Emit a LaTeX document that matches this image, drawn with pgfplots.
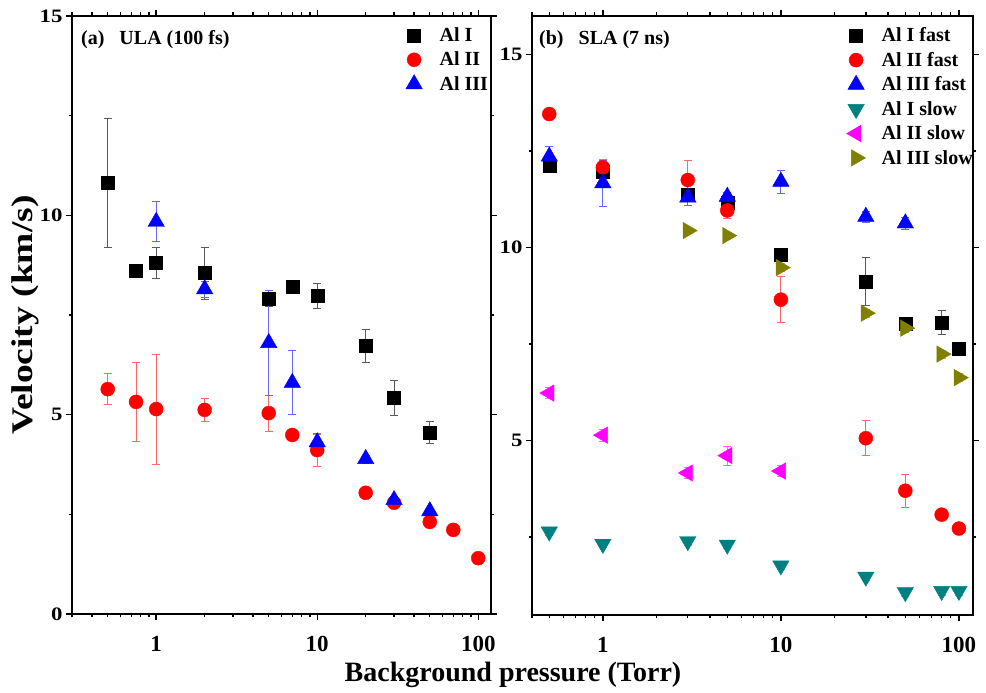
\documentclass[border=0pt]{standalone}
\usepackage{fontspec}
\setmainfont{Liberation Serif}
\newfontfamily\wideserif[FakeStretch=1.25]{Liberation Serif}
\newfontfamily\tickserif[FakeStretch=1.2]{Liberation Serif}
\usepackage{pgfplots}
\usepackage{pgfplotstable}
\pgfplotsset{compat=1.18}

\definecolor{cteal}{RGB}{0,128,128}
\definecolor{colive}{RGB}{128,128,0}
\definecolor{cmag}{RGB}{255,0,255}

% ---------- (a) ULA ----------
\pgfplotstableread{
x y e
0.5 10.81 1.62
0.75 8.60 0
1 8.80 0.39
2 8.55 0.65
5 7.92 0.2
7 8.20 0
10 7.98 0.31
20 6.73 0.41
30 5.42 0.43
50 4.56 0.27
}\ulaI
\pgfplotstableread{
x y e
0.5 5.64 0.39
0.75 5.32 1.0
1 5.14 1.38
2 5.12 0.30
5 5.04 0.45
7 4.49 0
10 4.11 0.40
20 3.04 0
30 2.79 0.08
50 2.31 0
70 2.11 0
100 1.40 0.13
}\ulaII
\pgfplotstableread{
x y e
1 9.84 0.5
2 8.15 0.2
5 6.80 1.31
7 5.80 0.8
10 4.31 0.22
20 3.89 0.1
30 2.86 0.1
50 2.58 0
}\ulaIII
% ---------- (b) SLA ----------
\pgfplotstableread{
x y e
0.5 12.12 0.1
1 11.97 0.1
3 11.38 0.1
5 11.15 0.15
10 9.81 0.15
30 9.12 0.63
50 8.02 0.1
80 8.06 0.3
100 7.38 0.1
}\slaIf
\pgfplotstableread{
x y e
0.5 13.46 0
1 12.08 0.2
3 11.75 0.5
5 10.96 0.2
10 8.65 0.6
30 5.06 0.45
50 3.70 0.43
80 3.08 0.05
100 2.72 0.05
}\slaIIf
\pgfplotstableread{
x y e
0.5 12.36 0.25
1 11.67 0.6
3 11.30 0.2
5 11.32 0.1
10 11.71 0.3
30 10.80 0.15
50 10.63 0.15
}\slaIIIf
\pgfplotstableread{
x y e
0.5 2.64 0.1
1 2.32 0.1
3 2.39 0.1
5 2.30 0.1
10 1.76 0.1
30 1.47 0.1
50 1.07 0.1
80 1.10 0.1
100 1.10 0.1
}\slaIs
\pgfplotstableread{
x y e
0.5 6.23 0.15
1 5.14 0.15
3 4.16 0.15
5 4.61 0.25
10 4.21 0.15
}\slaIIs
\pgfplotstableread{
x y e
3 10.44 0.05
5 10.31 0.05
10 9.48 0.1
30 8.30 0.1
50 7.91 0.1
80 7.24 0.1
100 6.63 0.1
}\slaIIIs

\newcommand{\yt}[1]{{\tickserif\bfseries\fontsize{19}{19}\selectfont #1}}
\newcommand{\xt}[1]{{\bfseries\fontsize{23}{23}\selectfont #1}}

\pgfplotsset{
  every axis/.append style={
    scale only axis,
    tick align=outside,
    axis line style={line width=2.2pt},
    every tick/.style={black, line width=1.4pt},
    major tick length=6pt, minor tick length=3.5pt,
    xticklabel style={yshift=-13pt},
    xticklabels={\xt{1},\xt{10},\xt{100}},
    legend cell align=left,
    legend style={draw=none, fill=none, inner sep=0pt, row sep=8pt, column sep=12pt,
      font=\bfseries\fontsize{20}{24}\selectfont, nodes={inner sep=0.5pt}},
  },
  mysq/.style={only marks, mark=square*, mark size=6.5pt, color=black, mark options={fill=black},
    error bars/y dir=both, error bars/y explicit,
    error bars/error bar style={line width=0.8pt, black!65},
    error bars/error mark options={rotate=90, mark size=4pt, line width=0.8pt, black!65}},
  myci/.style={only marks, mark=*, mark size=7pt, color=red, mark options={fill=red},
    error bars/y dir=both, error bars/y explicit,
    error bars/error bar style={line width=0.8pt, red!60},
    error bars/error mark options={rotate=90, mark size=4pt, line width=0.8pt, red!60}},
  mytu/.style={only marks, mark=triangle*, mark size=9.5pt, color=blue, mark options={fill=blue},
    error bars/y dir=both, error bars/y explicit,
    error bars/error bar style={line width=0.8pt, blue!60},
    error bars/error mark options={rotate=90, mark size=4pt, line width=0.8pt, blue!60}},
  mytd/.style={only marks, mark=triangle*, mark size=9.5pt, color=cteal, mark options={fill=cteal, rotate=180},
    error bars/y dir=both, error bars/y explicit,
    error bars/error bar style={line width=0.8pt, cteal!60},
    error bars/error mark options={rotate=90, mark size=4pt, line width=0.8pt, cteal!60}},
  mytl/.style={only marks, mark=triangle*, mark size=9.5pt, color=cmag, mark options={fill=cmag, rotate=90},
    error bars/y dir=both, error bars/y explicit,
    error bars/error bar style={line width=0.8pt, cmag!60},
    error bars/error mark options={rotate=90, mark size=4pt, line width=0.8pt, cmag!60}},
  mytr/.style={only marks, mark=triangle*, mark size=9.5pt, color=colive, mark options={fill=colive, rotate=-90},
    error bars/y dir=both, error bars/y explicit,
    error bars/error bar style={line width=0.8pt, colive!60},
    error bars/error mark options={rotate=90, mark size=4pt, line width=0.8pt, colive!60}},
}

\begin{document}
\begin{tikzpicture}
\useasboundingbox (-72pt,-79pt) rectangle (914pt,614pt);

\begin{axis}[
  xmode=log,
  at={(0pt,0pt)}, anchor=south west,
  width=419pt, height=598pt,
  xmin=0.3, xmax=120, ymin=0, ymax=15,
  xtick={1,10,100},
  minor xtick={0.3,0.4,0.5,0.6,0.7,0.8,0.9,2,3,4,5,6,7,8,9,20,30,40,50,60,70,80,90},
  ytick={0,5,10,15}, yticklabels={\yt{0},\yt{5},\yt{10},\yt{15}},
  minor ytick={2.5,7.5,12.5},
  legend style={at={(0.785,0.9816)}, anchor=north west},
  legend image code/.code={\path[draw=none,fill=none] (-13pt,-8pt) rectangle (13pt,8pt);
      \draw[#1,overlay] plot coordinates {(0pt,0pt)};},
]
\addplot[mysq] table[x=x,y=y,y error=e] {\ulaI};
\addlegendentry{Al I}
\addplot[myci] table[x=x,y=y,y error=e] {\ulaII};
\addlegendentry{Al II}
\addplot[mytu] table[x=x,y=y,y error=e] {\ulaIII};
\addlegendentry{Al III}
\node[anchor=base west, font=\bfseries\fontsize{20}{24}\selectfont, inner sep=0pt]
  at ([xshift=9pt,yshift=-29pt]rel axis cs:0,1) {(a)\hspace{15pt}ULA (100 fs)};
\end{axis}

\begin{axis}[
  xmode=log,
  at={(460pt,-1pt)}, anchor=south west,
  width=441pt, height=599pt,
  xmin=0.4, xmax=120, ymin=0.48, ymax=16.0,
  xtick={1,10,100},
  minor xtick={0.4,0.5,0.6,0.7,0.8,0.9,2,3,4,5,6,7,8,9,20,30,40,50,60,70,80,90},
  ytick={5,10,15}, yticklabels={\yt{5},\yt{10},\yt{15}},
  minor ytick={2.5,7.5,12.5},
  legend style={at={(0.705,0.9816)}, anchor=north west},
  legend image code/.code={\path[draw=none,fill=none] (-13pt,-8pt) rectangle (13pt,8pt);
      \draw[#1,overlay] plot coordinates {(0pt,0pt)};},
]
\addplot[mysq] table[x=x,y=y,y error=e] {\slaIf};
\addlegendentry{Al I fast}
\addplot[myci] table[x=x,y=y,y error=e] {\slaIIf};
\addlegendentry{Al II fast}
\addplot[mytu] table[x=x,y=y,y error=e] {\slaIIIf};
\addlegendentry{Al III fast}
\addplot[mytd] table[x=x,y=y,y error=e] {\slaIs};
\addlegendentry{Al I slow}
\addplot[mytl] table[x=x,y=y,y error=e] {\slaIIs};
\addlegendentry{Al II slow}
\addplot[mytr] table[x=x,y=y,y error=e] {\slaIIIs};
\addlegendentry{Al III slow}
\node[anchor=base west, font=\bfseries\fontsize{20}{24}\selectfont, inner sep=0pt]
  at ([xshift=7pt,yshift=-29pt]rel axis cs:0,1) {(b)\hspace{15pt}SLA (7 ns)};
\end{axis}

\node[rotate=90, font=\wideserif\bfseries\fontsize{30}{32}\selectfont] at (-47pt,299pt) {Velocity (km/s)};
\node[font=\bfseries\fontsize{28}{30}\selectfont] at (441pt,-61pt) {Background pressure (Torr)};
\end{tikzpicture}
\end{document}
